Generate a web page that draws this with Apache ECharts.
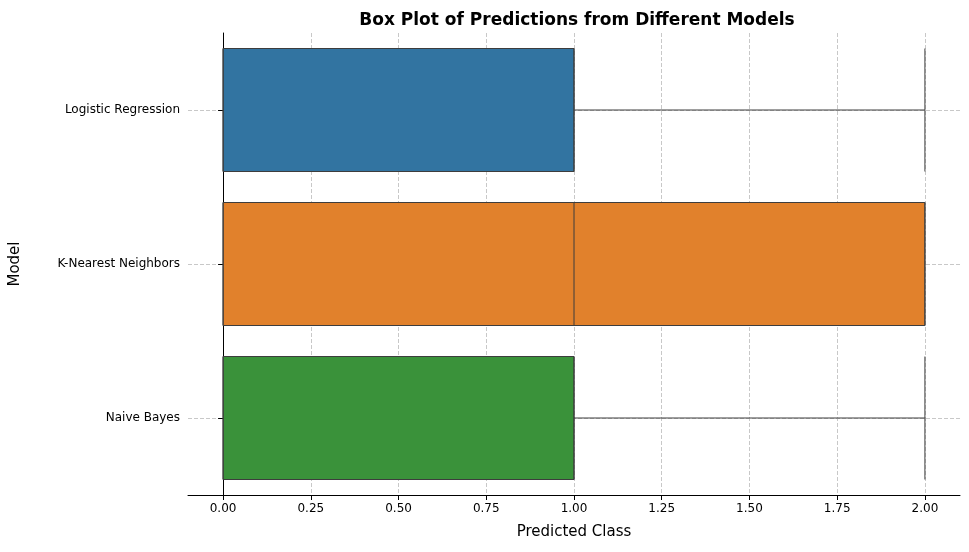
<!DOCTYPE html>
<html><head><meta charset="utf-8">
<script src="https://cdn.jsdelivr.net/npm/echarts@6/dist/echarts.min.js"></script>
<style>html,body{margin:0;padding:0;background:#fff}#c{width:969px;height:552px}</style>
</head><body><div id="c"></div>
<script>
const categories = ['Logistic Regression', 'K-Nearest Neighbors', 'Naive Bayes'];
const boxValues = [
  [0, 0, 1, 1, 2],
  [0, 0, 1, 2, 2],
  [0, 0, 1, 1, 2]
];
const colors = ['#3274a1', '#e1812c', '#3a923a'];
const xTicks = [0, 0.25, 0.5, 0.75, 1, 1.25, 1.5, 1.75, 2];

const chart = echarts.init(document.getElementById('c'));
chart.setOption({
  animation: false,
  title: {text: 'Box Plot of Predictions from Different Models', left: 572, top: 7, textAlign: 'center',
    textStyle: {fontFamily: 'DejaVu Sans', fontSize: 17, fontWeight: 'bold', color: '#000'}},
  grid: {left: 185, right: 9, top: 33, bottom: 57},
  xAxis: {type: 'value', min: -0.1, max: 2.1, name: 'Predicted Class', nameLocation: 'middle', nameGap: 30,
    nameTextStyle: {fontFamily: 'DejaVu Sans', fontSize: 15, color: '#000'},
    axisLine: {show: true, onZero: false, lineStyle: {color: '#000'}},
    axisTick: {show: true, customValues: xTicks, lineStyle: {color: '#000'}},
    axisLabel: {customValues: xTicks, formatter: v => v.toFixed(2), fontFamily: 'DejaVu Sans', fontSize: 12, color: '#000'},
    splitLine: {show: true, lineStyle: {type: 'dashed', color: '#c8c8c8'}}},
  yAxis: {type: 'category', data: categories, inverse: true, name: 'Model', nameLocation: 'middle', nameGap: 165,
    nameTextStyle: {fontFamily: 'DejaVu Sans', fontSize: 15, color: '#000'},
    axisLine: {show: true, lineStyle: {color: '#000'}},
    axisTick: {show: true, alignWithLabel: true, lineStyle: {color: '#000'}},
    axisLabel: {fontFamily: 'DejaVu Sans', fontSize: 12, color: '#000'},
    splitLine: {show: false}},
  series: [{
    type: 'boxplot', boxWidth: [123, 123],
    data: boxValues.map((v, i) => ({value: v, itemStyle: {color: colors[i], borderColor: '#3d3d3d', borderWidth: 1}})),
    markLine: {silent: true, symbol: 'none', label: {show: false},
      lineStyle: {type: 'dashed', color: '#c8c8c8', width: 1},
      data: categories.map(c => ({yAxis: c})), z: 0},
    z: 3
  }]
});
</script></body></html>
